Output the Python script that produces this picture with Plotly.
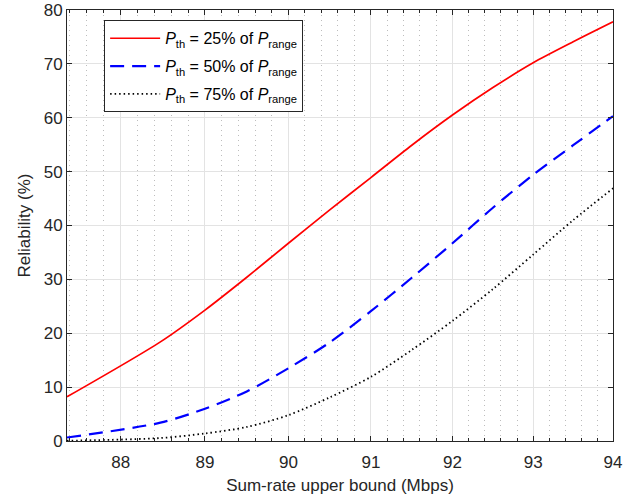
import numpy as np
import plotly.graph_objects as go

# Data
x_vals = [87.37, 88.47, 89.0, 89.5, 90.0, 90.5, 91.0, 91.5, 92.0, 92.5, 93.0, 93.5, 94.0]
rel_25 = [8.2, 18.4, 24.3, 30.4, 36.7, 42.9, 48.9, 54.9, 60.5, 65.6, 70.2, 74.1, 77.8]
rel_50 = [0.65, 3.4, 6.0, 9.2, 13.5, 18.3, 24.1, 30.3, 36.7, 43.3, 49.4, 54.9, 60.3]
rel_75 = [0.05, 0.55, 1.4, 2.6, 4.8, 8.1, 11.9, 16.9, 22.3, 28.2, 34.6, 41.0, 46.9]

x_ticks = [88, 89, 90, 91, 92, 93, 94]
y_ticks = [0, 10, 20, 30, 40, 50, 60, 70, 80]
x_minor = [round(v, 1) for v in np.arange(87.4, 94.0, 0.2)]

names = [
    "<i>P</i><sub>th</sub> = 25% of <i>P</i><sub>range</sub>",
    "<i>P</i><sub>th</sub> = 50% of <i>P</i><sub>range</sub>",
    "<i>P</i><sub>th</sub> = 75% of <i>P</i><sub>range</sub>",
]

FONT = "Liberation Sans, Arial, sans-serif"

fig = go.Figure()
fig.add_trace(go.Scatter(x=x_vals, y=rel_25, mode="lines", name=names[0], legendgroup="a",
                         line=dict(color="#ff0000", width=1.7, shape="spline", smoothing=0.8)))
fig.add_trace(go.Scatter(x=x_vals, y=rel_50, mode="lines", name=names[1], legendgroup="b",
                         line=dict(color="#0000ff", width=2.2, dash="14px,8px",
                                   shape="spline", smoothing=0.8)))
fig.add_trace(go.Scatter(x=x_vals, y=rel_75, mode="lines", name=names[2], legendgroup="c",
                         line=dict(color="#000000", width=1.8, dash="1.5px,3px",
                                   shape="spline", smoothing=0.8)))

axis_common = dict(
    showline=True, linecolor="#262626", linewidth=1, mirror="ticks",
    ticks="inside", ticklen=5, tickcolor="#262626",
    gridcolor="#e3e3e3", gridwidth=1, zeroline=False, automargin=False,
    tickfont=dict(family=FONT, size=17, color="#262626"),
)

fig.update_layout(
    width=634, height=497,
    margin=dict(l=67, r=21, t=10, b=56),
    plot_bgcolor="white", paper_bgcolor="white",
    font=dict(family=FONT, color="#262626"),
    xaxis=dict(
        type="log",
        range=[np.log10(87.37), np.log10(94.0)],
        tickmode="array", tickvals=x_ticks, ticktext=[str(t) for t in x_ticks],
        ticklabelstandoff=6,
        title=dict(text="Sum-rate upper bound (Mbps)", font=dict(size=17), standoff=7),
        minor=dict(tickmode="array", tickvals=x_minor, ticks="inside", ticklen=3,
                   tickcolor="#262626", showgrid=True, gridcolor="#bdbdbd",
                   griddash="1px,4px", gridwidth=1),
        **axis_common,
    ),
    yaxis=dict(
        range=[0, 80],
        tickmode="array", tickvals=y_ticks,
        title=dict(text="Reliability (%)", font=dict(size=17), standoff=8),
        **axis_common,
    ),
    legend=dict(
        x=0.068, y=0.976, xanchor="left", yanchor="top",
        bordercolor="#262626", borderwidth=1, bgcolor="white",
        font=dict(family=FONT, size=16, color="#000000"),
        tracegroupgap=4, itemwidth=50,
    ),
    showlegend=True,
)

fig.write_html("out.html")
